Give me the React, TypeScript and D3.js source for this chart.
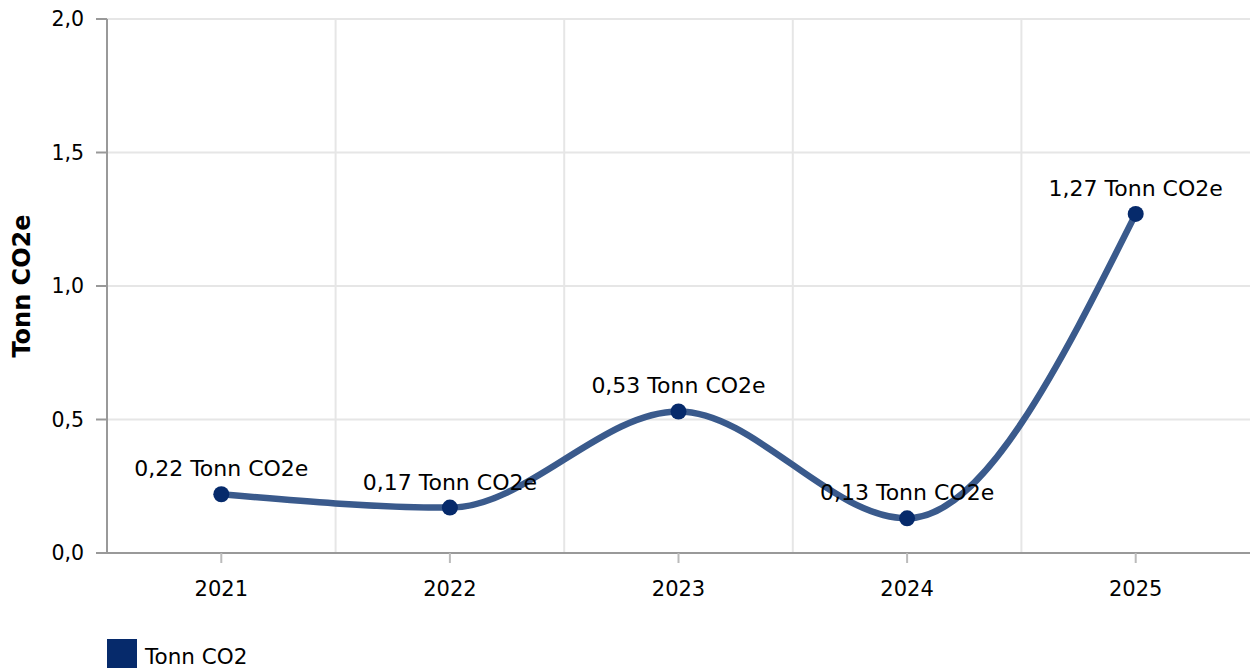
import React from "react";
import * as d3 from "d3";

const categories = ["2021", "2022", "2023", "2024", "2025"];
const values = [0.22, 0.17, 0.53, 0.13, 1.27];
const yTicks = [0, 0.5, 1.0, 1.5, 2.0];
const seriesName = "Tonn CO2";
const unitLabel = "Tonn CO2e";
const yTitle = "Tonn CO2e";

const W = 1250;
const H = 668;
const left = 107;
const right = 1250;
const top = 19;
const bottom = 553;
const font = "'DejaVu Sans', Verdana, sans-serif";

const fmt = (v: number, d: number) => v.toFixed(d).replace(".", ",");

export default function App() {
  const x = d3.scaleBand<string>().domain(categories).range([left, right]);
  const y = d3.scaleLinear().domain([0, 2]).range([bottom, top]);
  const cx = (c: string) => (x(c) as number) + x.bandwidth() / 2;
  const pts: [number, number][] = values.map((v, i) => [cx(categories[i]), y(v)]);
  const line = d3.line().curve(d3.curveMonotoneX)(pts) as string;
  const boundaries = categories.slice(1).map((c) => x(c) as number);

  return (
    <svg width={W} height={H} style={{ position: "absolute", left: 0, top: 0, fontFamily: font }}>
      {yTicks.map((t) => (
        <g key={"y" + t}>
          <line x1={left} x2={right} y1={y(t)} y2={y(t)} stroke="#e6e6e6" strokeWidth={2} />
          <line x1={96} x2={left} y1={y(t)} y2={y(t)} stroke="#999" strokeWidth={2} />
          <text x={84} y={y(t) + 7} textAnchor="end" fontSize={20.5} fill="#000">
            {fmt(t, 1)}
          </text>
        </g>
      ))}
      {boundaries.map((b, i) => (
        <line key={"v" + i} x1={b} x2={b} y1={top} y2={bottom} stroke="#e6e6e6" strokeWidth={2} />
      ))}
      <line x1={left} x2={left} y1={top} y2={bottom} stroke="#999" strokeWidth={2} />
      <line x1={left} x2={right} y1={bottom} y2={bottom} stroke="#999" strokeWidth={2} />
      {categories.map((c) => (
        <g key={c}>
          <line x1={cx(c)} x2={cx(c)} y1={bottom} y2={bottom + 10} stroke="#bbb" strokeWidth={2} />
          <text x={cx(c)} y={bottom + 43} textAnchor="middle" fontSize={21} fill="#000">
            {c}
          </text>
        </g>
      ))}
      <text
        transform={`translate(30,${(top + bottom) / 2}) rotate(-90)`}
        textAnchor="middle"
        fontSize={24}
        fontWeight="bold"
        fill="#000"
      >
        {yTitle}
      </text>
      <path d={line} fill="none" stroke="#3a5a8c" strokeWidth={6.5} strokeLinecap="round" />
      {pts.map(([px, py], i) => (
        <g key={"p" + i}>
          <circle cx={px} cy={py} r={8} fill="#062a6b" />
          <text x={px} y={py - 18} textAnchor="middle" fontSize={22} fill="#000">
            {fmt(values[i], 2) + " " + unitLabel}
          </text>
        </g>
      ))}
      <rect x={107} y={639} width={30} height={30} fill="#062a6b" />
      <text x={145} y={664} fontSize={21.5} fill="#000">
        {seriesName}
      </text>
    </svg>
  );
}
